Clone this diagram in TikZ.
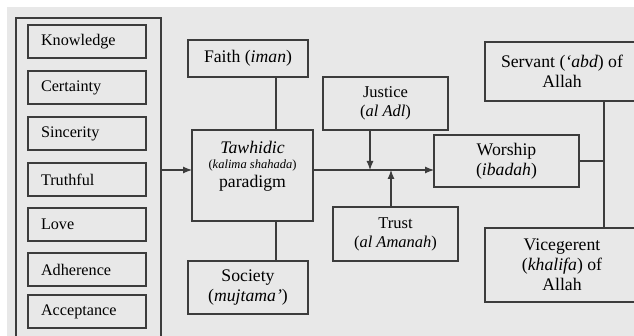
\documentclass[tikz,border=0pt]{standalone}
\usepackage{fontspec}
\setmainfont{Liberation Serif}
\usetikzlibrary{positioning}
\usetikzlibrary{arrows.meta}
\definecolor{paper}{RGB}{232,232,232}
\definecolor{linegray}{RGB}{60,60,60}
\tikzset{auto, >={Latex[length=9pt,width=7pt]}, x=1pt, y=-1pt, node distance=13pt}
\tikzstyle{block} = [draw=linegray, line width=1.1pt, fill=paper, rectangle, inner sep=0pt, outer sep=0pt, align=center, font=\fontsize{17.7}{20}\selectfont]
\tikzstyle{item} = [block, minimum height=33pt, text width=92pt, inner xsep=13pt, align=left, font=\fontsize{16.2}{18}\selectfont]
\tikzstyle{small} = [block, minimum width=125pt, font=\fontsize{16.5}{19}\selectfont]
\tikzstyle{link} = [draw=linegray, line width=1.1pt]

\begin{document}
\begin{tikzpicture}
    \useasboundingbox (0,0) rectangle (634,336);
    \clip (0,0) rectangle (634,336);
    \fill [paper] (7,7) rectangle (634,336);

    % conditions of the kalima
    \node [block, minimum width=145pt, minimum height=342pt] (values) at (88.5,189) {};
    \node [item] (knowledge) at (87,41.5) {Knowledge};
    \node [item, below=of knowledge] (certainty) {Certainty};
    \node [item, below=of certainty] (sincerity) {Sincerity};
    \node [item, below=of sincerity] (truthful) {Truthful};
    \node [item, below=12pt of truthful] (love) {Love};
    \node [item, below=12pt of love] (adherence) {Adherence};
    \node [item, below=9pt of adherence] (acceptance) {Acceptance};

    % paradigm
    \node [block, minimum width=121pt, minimum height=91pt] (tawhidic) at (252.5,175.5) {};
    \node [anchor=north, align=center, inner sep=0pt, font=\fontsize{17.7}{20}\selectfont] (tawhidictext) at ([yshift=-10.7pt]tawhidic.north)
        {\textit{Tawhidic}\\[-5pt]{\fontsize{12.5}{14}\selectfont(\textit{kalima shahada})}\\[-1pt]paradigm};
    \node [block, minimum width=120pt, minimum height=37pt, above=53pt of tawhidic, xshift=-4.5pt] (faith) {Faith (\textit{iman})};
    \node [block, minimum width=120pt, minimum height=53pt, below=40pt of tawhidic, xshift=-4.5pt] (society) {Society\\(\textit{mujtama’})};

    % values on the way
    \node [small, minimum height=53pt] (justice) at (385.5,103.5) {Justice\\(\textit{al Adl})};
    \node [small, minimum height=54pt] (trust) at (395.5,234) {Trust\\(\textit{al Amanah})};
    \node [block, minimum width=145pt, minimum height=52pt] (worship) at (506.5,161) {Worship\\(\textit{ibadah})};

    % roles
    \node [block, minimum width=154pt, minimum height=59pt] (servant) at (562,71.5) {Servant (\textit{‘abd}) of\\Allah};
    \node [block, minimum width=154pt, minimum height=74pt] (vicegerent) at (562,265) {Vicegerent\\(\textit{khalifa}) of\\Allah};

    \coordinate (mainline) at (0,170);
    \coordinate (spine) at ([xshift=42pt]servant.south);

    \draw [link, ->] (values.east |- mainline) -- (tawhidic.west |- mainline);
    \draw [link, ->] (tawhidic.east |- mainline) -- (worship.west |- mainline);
    \draw [link, ->] ([xshift=-15.5pt]justice.south) -- ([xshift=-15.5pt]justice.south |- mainline);
    \draw [link, ->] ([xshift=-4.5pt]trust.north) -- ([xshift=-4.5pt]trust.north |- mainline);
    \draw [link] ([xshift=28pt]faith.south) -- ([xshift=28pt]faith.south |- tawhidic.north);
    \draw [link] ([xshift=28pt]society.north) -- ([xshift=28pt]society.north |- tawhidic.south);
    \draw [link] (worship.east) -- (worship.east -| spine);
    \draw [link] (spine) -- (spine |- vicegerent.north);
\end{tikzpicture}
\end{document}
